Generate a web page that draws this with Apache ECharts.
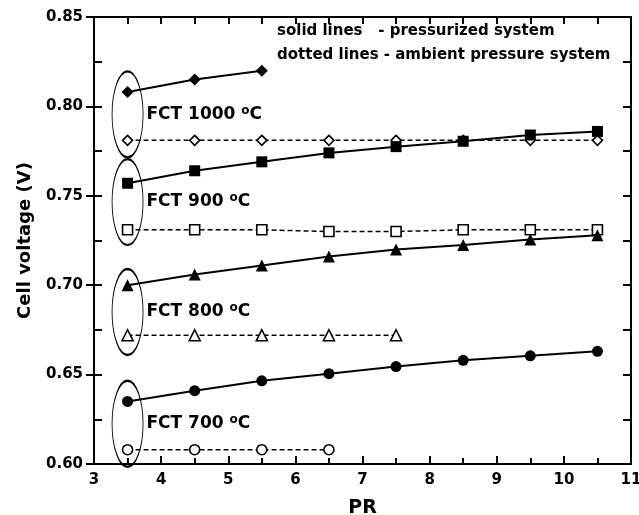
<!DOCTYPE html>
<html>
<head>
<meta charset="utf-8">
<script src="https://cdn.jsdelivr.net/npm/echarts@6/dist/echarts.min.js"></script>
<style>
  html, body { margin: 0; padding: 0; background: #fff; }
  #graph { width: 639px; height: 515px; }
</style>
</head>
<body>
<div id="graph"></div>
<script>
const prValues = [3.5, 4.5, 5.5, 6.5, 7.5, 8.5, 9.5, 10.5];
const press1000 = [0.808, 0.815, 0.820];
const amb1000 = [0.781, 0.781, 0.781, 0.781, 0.781, 0.781, 0.781, 0.781];
const press900 = [0.757, 0.764, 0.769, 0.774, 0.7775, 0.7805, 0.784, 0.786];
const amb900 = [0.731, 0.731, 0.731, 0.730, 0.730, 0.731, 0.731, 0.731];
const press800 = [0.700, 0.706, 0.711, 0.716, 0.720, 0.7225, 0.7255, 0.728];
const amb800 = [0.672, 0.672, 0.672, 0.672, 0.672];
const press700 = [0.635, 0.641, 0.6465, 0.6505, 0.6545, 0.658, 0.6605, 0.663];
const amb700 = [0.608, 0.608, 0.608, 0.608];
const groupTemps = ['1000', '900', '800', '700'];
const groupCenters = [0.7955, 0.7465, 0.685, 0.6225];
const legendLines = ['solid lines   - pressurized system', 'dotted lines - ambient pressure system'];

const FONT = '"DejaVu Sans", sans-serif';

function pairs(vals) {
  return vals.map((v, i) => [prValues[i], v]);
}

function lineSeries(vals, symbol, size, filled) {
  return {
    type: 'line',
    data: pairs(vals),
    symbol: symbol,
    symbolSize: size,
    showAllSymbol: true,
    z: filled ? 4 : 3,
    lineStyle: filled
      ? { color: '#000', width: 2, type: 'solid' }
      : { color: '#000', width: 1.5, type: [5, 3] },
    itemStyle: filled
      ? { color: '#000', borderWidth: 0 }
      : { color: '#fff', borderColor: '#000', borderWidth: 1.6 },
    emphasis: { disabled: true },
    animation: false
  };
}

function createOptions() {
  const series = [
    lineSeries(press1000, 'diamond', 12, true),
    lineSeries(amb1000, 'diamond', 10, false),
    lineSeries(press900, 'rect', 11, true),
    lineSeries(amb900, 'rect', 10, false),
    lineSeries(press800, 'triangle', 12, true),
    lineSeries(amb800, 'triangle', 11, false),
    lineSeries(press700, 'circle', 11, true),
    lineSeries(amb700, 'circle', 10, false),
    {
      type: 'scatter',
      data: groupCenters.map((c, i) => ({ value: [prValues[0], c], temp: groupTemps[i] })),
      symbol: 'circle',
      symbolSize: [31, 86],
      z: 1,
      itemStyle: { color: 'rgba(0,0,0,0)', borderColor: '#000', borderWidth: 1.4, opacity: 1 },
      label: {
        show: true,
        position: 'right',
        distance: 3,
        color: '#000',
        formatter: (p) => '{t|FCT ' + p.data.temp + ' }{s|o}{t|C}',
        rich: {
          t: { fontFamily: FONT, fontWeight: 'bold', fontSize: 17, color: '#000', lineHeight: 20 },
          s: { fontFamily: FONT, fontWeight: 'bold', fontSize: 12, color: '#000', verticalAlign: 'top', lineHeight: 8 }
        }
      },
      emphasis: { disabled: true },
      animation: false
    }
  ];

  const hidden = { show: false };
  return {
    animation: false,
    grid: { left: 94, right: 8, top: 17, bottom: 51, outerBoundsMode: 'none' },
    xAxis: [
      {
        type: 'value', min: 3, max: 11, interval: 1, position: 'bottom',
        name: 'PR', nameLocation: 'middle', nameGap: 35,
        nameTextStyle: { fontFamily: FONT, fontWeight: 'bold', fontSize: 19, color: '#000' },
        axisLine: { lineStyle: { color: '#000', width: 2 } },
        axisTick: { inside: true, length: 8, lineStyle: { color: '#000', width: 2 } },
        minorTick: { show: true, splitNumber: 2, length: 6, lineStyle: { color: '#000', width: 2 } },
        axisLabel: { fontFamily: FONT, fontWeight: 'bold', fontSize: 15, color: '#000', margin: 9 },
        splitLine: hidden
      },
      {
        type: 'value', min: 3, max: 11, interval: 0.5, position: 'top',
        axisLine: { lineStyle: { color: '#000', width: 2 } },
        axisTick: { inside: true, length: 7, lineStyle: { color: '#000', width: 2 } },
        axisLabel: hidden, splitLine: hidden
      }
    ],
    yAxis: [
      {
        type: 'value', min: 0.6, max: 0.85, interval: 0.05, position: 'left',
        name: 'Cell voltage (V)', nameLocation: 'middle', nameGap: 60,
        nameTextStyle: { fontFamily: FONT, fontWeight: 'bold', fontSize: 18, color: '#000' },
        axisLine: { lineStyle: { color: '#000', width: 2 } },
        axisTick: { inside: false, length: 8, lineStyle: { color: '#000', width: 2 } },
        axisLabel: { fontFamily: FONT, fontWeight: 'bold', fontSize: 15, color: '#000', margin: 11,
          formatter: (v) => v.toFixed(2) },
        splitLine: hidden
      },
      {
        type: 'value', min: 0.6, max: 0.85, interval: 0.025, position: 'left',
        axisLine: hidden,
        axisTick: { inside: true, length: 8, lineStyle: { color: '#000', width: 2 } },
        axisLabel: hidden, splitLine: hidden
      },
      {
        type: 'value', min: 0.6, max: 0.85, interval: 0.025, position: 'right',
        axisLine: { lineStyle: { color: '#000', width: 2 } },
        axisTick: { inside: true, length: 8, lineStyle: { color: '#000', width: 2 } },
        axisLabel: hidden, splitLine: hidden
      }
    ],
    graphic: legendLines.map((txt, i) => ({
      type: 'text',
      left: 277,
      top: 24 + i * 24,
      style: { text: txt, fontFamily: FONT, fontWeight: 'bold', fontSize: 15, fill: '#000' }
    })),
    series: series
  };
}

function showGraph() {
  const myChart = echarts.init(document.getElementById('graph'));
  myChart.setOption(createOptions());
}

showGraph();
</script>
</body>
</html>
